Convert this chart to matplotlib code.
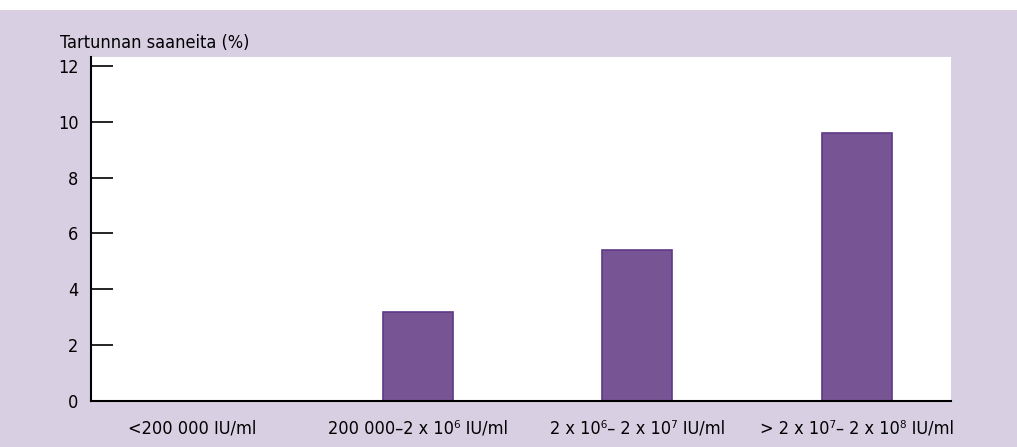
import matplotlib
matplotlib.use("Agg")
import matplotlib.pyplot as plt
from matplotlib.transforms import ScaledTranslation

plt.rcParams['font.family'] = ['DejaVu Sans']
plt.rcParams['font.stretch'] = 'condensed'

categories = ["<200 000 IU/ml",
              "200 000–2 x 10⁶ IU/ml",
              "2 x 10⁶– 2 x 10⁷ IU/ml",
              "> 2 x 10⁷– 2 x 10⁸ IU/ml"]
values = [0.0, 3.2, 5.4, 9.6]
yticks = [0, 2, 4, 6, 8, 10, 12]
ylabel = "Tartunnan saaneita (%)"

W, H = 1017, 447
fig = plt.figure(figsize=(W/100, H/100), dpi=100)
fig.patch.set_facecolor('white')
bg = fig.add_axes([0, 0, 1, (H-10)/H])
bg.set_facecolor('#d8cfe3')
bg.set_xticks([]); bg.set_yticks([])
for s in bg.spines.values():
    s.set_visible(False)
bg.set_zorder(0)

left, right = 91, 951
top, bottom = 57, 401
ax = fig.add_axes([left/W, (H-bottom)/H, (right-left)/W, (bottom-top)/H])
ax.set_zorder(1)
ax.set_facecolor('white')
x = list(range(len(categories)))
ax.bar(x, values, width=0.32, color='#775494', edgecolor='#5e3a86', linewidth=1.2)
ax.set_xlim(-0.49, 3.43)
ax.set_ylim(0, 12.32)
ax.set_yticks(yticks)
ax.set_yticklabels([str(t) for t in yticks])
ax.set_xticks(x)
ax.set_xticklabels(categories)
ax.tick_params(axis='y', direction='in', length=16, width=1.2, pad=9, labelsize=13)
ax.tick_params(axis='x', length=0, pad=13, labelsize=13)
for s in ['top', 'right']:
    ax.spines[s].set_visible(False)
for s in ['left', 'bottom']:
    ax.spines[s].set_linewidth(1.5)
    ax.spines[s].set_color('black')

lab0 = ax.get_xticklabels()[0]
lab0.set_transform(lab0.get_transform() + ScaledTranslation(-0.06, 0, fig.dpi_scale_trans))

fig.text(60/W, (H-43)/H, ylabel, fontsize=13, va='center', ha='left')

fig.savefig('out.png', dpi=100)
